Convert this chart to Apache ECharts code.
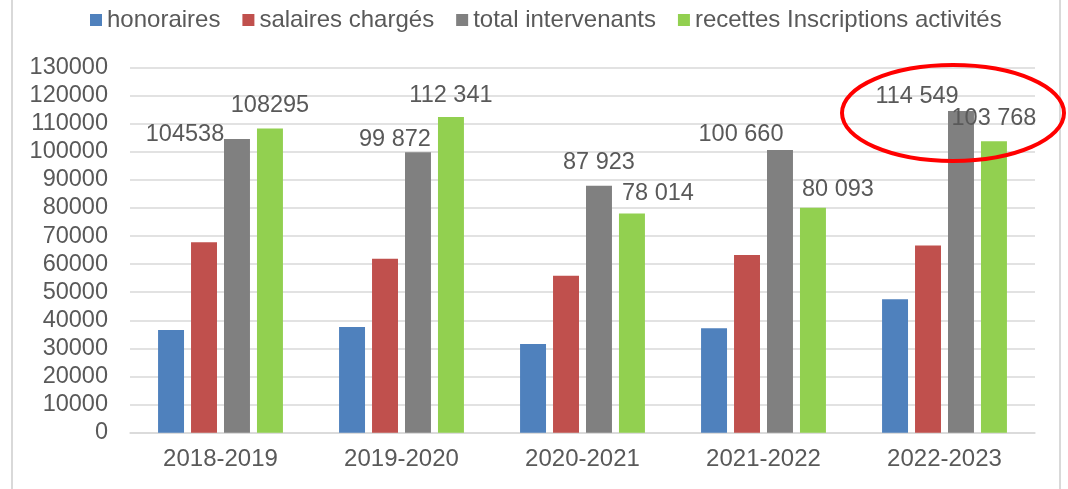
<!DOCTYPE html>
<html>
<head>
<meta charset="utf-8">
<script src="https://cdn.jsdelivr.net/npm/echarts@6/dist/echarts.min.js"></script>
<style>
  html, body { margin: 0; padding: 0; background: #fff; }
  #chart { width: 1068px; height: 489px; }
</style>
</head>
<body>
<div id="chart"></div>
<script>
var years = ['2018-2019', '2019-2020', '2020-2021', '2021-2022', '2022-2023'];
var honoraires = [36600, 37600, 31600, 37200, 47500];
var salaires = [67800, 61900, 55900, 63300, 66600];
var totalIntervenants = [104538, 99872, 87923, 100660, 114549];
var recettes = [108295, 112341, 78014, 80093, 103768];
var yTicks = [0, 130000, 10000]; // min, max, interval

// label shifts as seen in the source chart (labels were dragged by hand)
var shiftTotal = [[-52, 18], [-23, 10], [0, 0], [-39, 8], [-44, 9]];
var shiftRecettes = [[0, 0], [0, 1], [26, 3], [25, 5], [0, 0]];

var txt = '#595959';
var font = 'Liberation Sans, Arial, sans-serif';

function fmt(v, i) {
	// first year has no thousands separator in the original
	if (i == 0) return String(v);
	return String(v).replace(/\B(?=(\d{3})+(?!\d))/g, ' ');
}

function withLabels(vals, shifts) {
	return vals.map(function (v, i) {
		return {
			value: v,
			label: {
				show: true,
				position: 'top',
				distance: 11,
				offset: shifts[i],
				formatter: fmt(v, i),
				color: txt,
				fontSize: 23.5,
				fontFamily: font
			}
		};
	});
}

var myChart = echarts.init(document.getElementById('chart'));
var option = {
	animation: false,
	color: ['#4f81bd', '#c0504d', '#808080', '#92d050'],
	textStyle: { fontFamily: font },
	legend: {
		left: 85,
		top: 3,
		itemWidth: 12,
		itemHeight: 12,
		itemGap: 22,
		icon: 'rect',
		textStyle: { color: txt, fontSize: 24, fontFamily: font },
		data: ['honoraires', 'salaires chargés', 'total intervenants', 'recettes Inscriptions activités']
	},
	grid: {
		left: 130,
		right: 33,
		top: 67.5,
		bottom: 56.3
	},
	xAxis: {
		type: 'category',
		data: years,
		axisTick: { show: false },
		axisLine: { lineStyle: { color: '#d9d9d9', width: 1.5 } },
		axisLabel: { color: txt, fontSize: 24, margin: 15, fontFamily: font }
	},
	yAxis: {
		type: 'value',
		min: yTicks[0],
		max: yTicks[1],
		interval: yTicks[2],
		axisLine: { show: false },
		axisTick: { show: false },
		splitLine: { lineStyle: { color: '#d9d9d9', width: 1.5 } },
		axisLabel: {
			color: txt, fontSize: 23.5, margin: 22, fontFamily: font,
			formatter: function (v) { return String(v); }
		}
	},
	graphic: [
		{
			type: 'rect',
			silent: true,
			shape: { x: 12, y: -10, width: 1048, height: 510 },
			style: { fill: 'none', stroke: '#d9d9d9', lineWidth: 2 }
		},
		{
			type: 'ellipse',
			silent: true,
			shape: { cx: 953, cy: 113, rx: 111, ry: 48 },
			style: { fill: 'none', stroke: '#ff0000', lineWidth: 4 },
			z: 100
		}
	],
	series: [
		{
			name: 'honoraires',
			type: 'bar',
			barGap: '27%',
			barCategoryGap: '31%',
			data: honoraires
		},
		{
			name: 'salaires chargés',
			type: 'bar',
			data: salaires
		},
		{
			name: 'total intervenants',
			type: 'bar',
			data: withLabels(totalIntervenants, shiftTotal)
		},
		{
			name: 'recettes Inscriptions activités',
			type: 'bar',
			data: withLabels(recettes, shiftRecettes)
		}
	]
};
myChart.setOption(option);
</script>
</body>
</html>
